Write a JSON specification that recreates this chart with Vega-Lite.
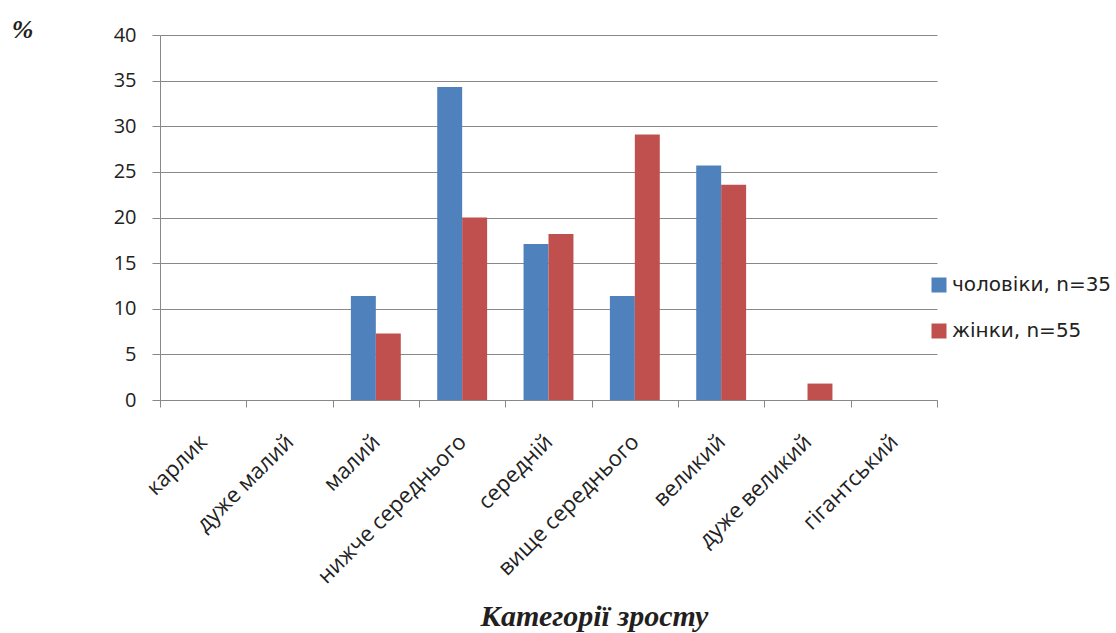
{
  "$schema": "https://vega.github.io/schema/vega-lite/v6.json",
  "autosize": {"type": "none"},
  "width": 777,
  "height": 365,
  "padding": {"left": 160, "top": 35, "right": 179, "bottom": 233},
  "background": "white",
  "data": {
    "values": [
      {"cat": "карлик", "sex": "чоловіки, n=35", "pct": 0},
      {"cat": "карлик", "sex": "жінки, n=55", "pct": 0},
      {"cat": "дуже малий", "sex": "чоловіки, n=35", "pct": 0},
      {"cat": "дуже малий", "sex": "жінки, n=55", "pct": 0},
      {"cat": "малий", "sex": "чоловіки, n=35", "pct": 11.4},
      {"cat": "малий", "sex": "жінки, n=55", "pct": 7.3},
      {"cat": "нижче середнього", "sex": "чоловіки, n=35", "pct": 34.3},
      {"cat": "нижче середнього", "sex": "жінки, n=55", "pct": 20.0},
      {"cat": "середній", "sex": "чоловіки, n=35", "pct": 17.1},
      {"cat": "середній", "sex": "жінки, n=55", "pct": 18.2},
      {"cat": "вище середнього", "sex": "чоловіки, n=35", "pct": 11.4},
      {"cat": "вище середнього", "sex": "жінки, n=55", "pct": 29.1},
      {"cat": "великий", "sex": "чоловіки, n=35", "pct": 25.7},
      {"cat": "великий", "sex": "жінки, n=55", "pct": 23.6},
      {"cat": "дуже великий", "sex": "чоловіки, n=35", "pct": 0},
      {"cat": "дуже великий", "sex": "жінки, n=55", "pct": 1.8},
      {"cat": "гігантський", "sex": "чоловіки, n=35", "pct": 0},
      {"cat": "гігантський", "sex": "жінки, n=55", "pct": 0}
    ]
  },
  "mark": {"type": "bar"},
  "encoding": {
    "x": {
      "field": "cat",
      "type": "nominal",
      "sort": null,
      "scale": {"paddingInner": 0, "paddingOuter": 0},
      "axis": {
        "title": "Категорії зросту",
        "titleFont": "Liberation Serif",
        "titleFontSize": 30,
        "titleFontWeight": "bold",
        "titleFontStyle": "italic",
        "titleColor": "#231f20",
        "titleX": 434,
        "titleY": 225,
        "titleAnchor": "middle",
        "titleAlign": "center",
        "titleBaseline": "alphabetic",
        "labelAngle": -45,
        "labelAlign": "right",
        "labelBaseline": "middle",
        "labelFont": "Open Sans",
        "labelFontSize": 22,
        "labelColor": "#222222",
        "labelPadding": 31,
        "labelLimit": 0,
        "labelOverlap": false,
        "tickBand": "extent",
        "tickSize": 7,
        "tickColor": "#888888",
        "domainColor": "#888888",
        "grid": false
      }
    },
    "xOffset": {
      "field": "sex",
      "type": "nominal",
      "sort": ["чоловіки, n=35", "жінки, n=55"],
      "scale": {"paddingInner": 0, "paddingOuter": 0.73}
    },
    "y": {
      "field": "pct",
      "type": "quantitative",
      "scale": {"domain": [0, 40]},
      "axis": {
        "values": [0, 5, 10, 15, 20, 25, 30, 35, 40],
        "title": "%",
        "titleAngle": 0,
        "titleFont": "Liberation Serif",
        "titleFontSize": 26,
        "titleFontWeight": "bold",
        "titleFontStyle": "italic",
        "titleColor": "#231f20",
        "titleX": -138,
        "titleY": 2,
        "titleAlign": "center",
        "titleBaseline": "alphabetic",
        "labelFont": "Open Sans",
        "labelFontSize": 20,
        "labelColor": "#222222",
        "labelPadding": 16,
        "tickSize": 8,
        "tickColor": "#888888",
        "domainColor": "#888888",
        "gridColor": "#888888",
        "gridWidth": 1
      }
    },
    "color": {
      "field": "sex",
      "type": "nominal",
      "sort": ["чоловіки, n=35", "жінки, n=55"],
      "scale": {"range": ["#4F81BD", "#C0504D"]},
      "legend": {
        "title": null,
        "orient": "none",
        "legendX": 769,
        "legendY": 240,
        "symbolType": "square",
        "symbolSize": 225,
        "symbolStrokeWidth": 0,
        "labelFont": "DejaVu Sans",
        "labelFontSize": 20,
        "labelColor": "#222222",
        "labelOffset": 3,
        "labelLimit": 0,
        "rowPadding": 26
      }
    }
  },
  "config": {"view": {"stroke": null}}
}
